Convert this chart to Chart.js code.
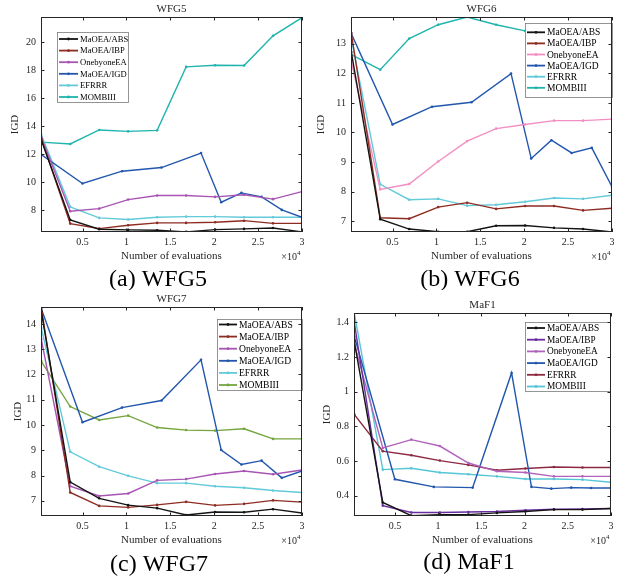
<!DOCTYPE html>
<html><head><meta charset="utf-8">
<script src="https://cdn.jsdelivr.net/npm/chart.js@4"></script>
<style>
html,body{margin:0;padding:0;background:#fff}
body{width:623px;height:577px;position:relative;overflow:hidden}
canvas{position:absolute}
</style></head><body>
<canvas id="ca" width="311" height="290" style="left:0;top:0"></canvas>
<canvas id="cb" width="312" height="290" style="left:311px;top:0"></canvas>
<canvas id="cc" width="311" height="287" style="left:0;top:290px"></canvas>
<canvas id="cd" width="312" height="287" style="left:311px;top:290px"></canvas>
<script>
// ---------- data ----------
const algorithms = ['MaOEA/ABS','MaOEA/IBP','OnebyoneEA','MaOEA/IGD','EFRRR','MOMBIII'];
const xEval    = [0.03,0.36,0.69,1.02,1.35,1.68,2.01,2.34,2.67,3.0];   // ×10^4 evaluations
const xEvalIGD = [0.03,0.5,0.95,1.4,1.85,2.08,2.31,2.54,2.77,3.0];
const xTicks = [0.5,1,1.5,2,2.5,3];

// WFG5
const wfg5ABS = [13.0,7.28,6.62,6.57,6.54,6.43,6.59,6.64,6.71,6.43];
const wfg5IBP = [13.1,7.02,6.66,6.9,7.07,7.07,7.12,7.23,7.04,7.04];
const wfg5One = [13.2,7.9,8.09,8.74,9.03,9.03,8.93,9.08,8.77,9.31];
const wfg5IGD = [11.95,9.89,10.77,11.03,12.07,8.55,9.22,8.93,8.0,7.47];
const wfg5EFR = [13.38,8.22,7.43,7.31,7.47,7.52,7.52,7.47,7.47,7.47];
const wfg5MOM = [12.85,12.72,13.72,13.62,13.69,18.23,18.35,18.33,20.45,21.75];
const wfg5YTicks = [8,10,12,14,16,18,20];

// WFG6
const wfg6ABS = [12.72,7.07,6.74,6.65,6.65,6.85,6.86,6.78,6.74,6.64];
const wfg6IBP = [13.36,7.12,7.09,7.48,7.63,7.42,7.52,7.52,7.37,7.44];
const wfg6One = [12.4,8.08,8.26,9.02,9.71,10.13,10.27,10.4,10.4,10.45];
const wfg6IGD = [13.34,10.27,10.87,11.02,11.99,9.12,9.74,9.31,9.48,8.17];
const wfg6EFR = [13.17,8.25,7.73,7.76,7.53,7.56,7.66,7.79,7.76,7.88];
const wfg6MOM = [12.63,12.12,13.17,13.64,13.9,13.64,13.43,13.3,13.2,13.13];
const wfg6YTicks = [7,8,9,10,11,12,13];

// WFG7
const wfg7ABS = [14.5,7.74,7.1,6.83,6.71,6.44,6.56,6.55,6.67,6.52];
const wfg7IBP = [14.65,7.33,6.8,6.74,6.84,6.96,6.82,6.88,7.02,6.95];
const wfg7One = [13.4,7.58,7.19,7.29,7.81,7.86,8.06,8.18,8.05,8.22];
const wfg7IGD = [14.6,10.11,10.69,10.97,12.58,9.01,8.44,8.59,7.91,8.18];
const wfg7EFR = [13.84,8.94,8.35,7.99,7.7,7.7,7.58,7.52,7.41,7.33];
const wfg7MOM = [12.52,10.73,10.2,10.37,9.9,9.8,9.78,9.85,9.45,9.45];
const wfg7YTicks = [7,8,9,10,11,12,13,14];

// MaF1
const maf1ABS = [1.29,0.36,0.284,0.29,0.29,0.30,0.308,0.319,0.319,0.325];
const maf1IBP = [1.4,0.342,0.302,0.302,0.305,0.308,0.315,0.321,0.322,0.325];
const maf1One = [1.277,0.675,0.723,0.686,0.588,0.54,0.533,0.511,0.511,0.511];
const maf1IGD = [1.32,0.494,0.45,0.446,1.108,0.45,0.44,0.446,0.444,0.444];
const maf1EFR = [0.869,0.656,0.633,0.602,0.577,0.546,0.556,0.565,0.562,0.562];
const maf1MOM = [1.454,0.55,0.558,0.533,0.523,0.511,0.496,0.496,0.492,0.477];
const maf1YTicks = [0.4,0.6,0.8,1,1.2,1.4];

// ---------- drawing ----------
const SERIF = '"Liberation Serif","DejaVu Serif",serif';
const AX = '#262626';

function pts(xs, ys){ return xs.map((x,i)=>({x:x, y:ys[i]})); }

function panelPlugin(p){
  return {
    id:'panel'+p.id,
    afterDatasetsDraw(chart){
      const ctx = chart.ctx, a = chart.chartArea, xs = chart.scales.x, ys = chart.scales.y;
      const ox = p.ox, oy = p.oy;
      ctx.save();
      // legend
      const L = p.legend;
      ctx.fillStyle = '#fff';
      ctx.fillRect(L.x-ox, L.y-oy, L.w, L.h);
      ctx.strokeStyle = '#7a7a7a'; ctx.lineWidth = 0.8;
      ctx.strokeRect(L.x-ox+0.5, L.y-oy+0.5, L.w-1, L.h-1);
      chart.data.datasets.forEach((ds,i)=>{
        const y = L.row0 + i*L.step - oy;
        ctx.strokeStyle = ds.borderColor; ctx.lineWidth = 1.8;
        ctx.beginPath(); ctx.moveTo(L.l0-ox, y); ctx.lineTo(L.l1-ox, y); ctx.stroke();
        ctx.fillStyle = ds.borderColor;
        ctx.beginPath(); ctx.arc((L.l0+L.l1)/2-ox, y, 1.4, 0, Math.PI*2); ctx.fill();
        ctx.fillStyle = '#000'; ctx.font = L.font+'px '+SERIF;
        ctx.textAlign = 'left'; ctx.textBaseline = 'middle';
        ctx.fillText(ds.label, L.tx-ox, y+0.5);
      });
      // axes box
      ctx.strokeStyle = AX; ctx.lineWidth = 1;
      ctx.strokeRect(Math.round(a.left)+0.5, Math.round(a.top)+0.5, Math.round(a.right-a.left)-1, Math.round(a.bottom-a.top)-1);
      // ticks
      ctx.beginPath();
      xTicks.forEach(v=>{
        const px = Math.round(xs.getPixelForValue(v))+0.5;
        ctx.moveTo(px, a.bottom); ctx.lineTo(px, a.bottom-3.5);
        ctx.moveTo(px, a.top); ctx.lineTo(px, a.top+3.5);
      });
      p.yTicks.forEach(v=>{
        const py = Math.round(ys.getPixelForValue(v))+0.5;
        ctx.moveTo(a.left, py); ctx.lineTo(a.left+3.5, py);
        ctx.moveTo(a.right, py); ctx.lineTo(a.right-3.5, py);
      });
      ctx.stroke();
      // tick labels
      ctx.fillStyle = AX; ctx.font = '10px '+SERIF;
      ctx.textAlign = 'center'; ctx.textBaseline = 'middle';
      xTicks.forEach(v=>{ ctx.fillText(String(v), xs.getPixelForValue(v), a.bottom+10); });
      ctx.textAlign = 'right';
      p.yTicks.forEach(v=>{ ctx.fillText(String(v), a.left-5, ys.getPixelForValue(v)); });
      // titles
      const cx = (a.left+a.right)/2;
      ctx.textAlign = 'center';
      ctx.font = '11px '+SERIF;
      ctx.fillText(p.title, cx, a.top-8);
      ctx.fillText('Number of evaluations', cx, a.bottom+24);
      // ×10^4
      ctx.textAlign = 'right'; ctx.font = '10px '+SERIF;
      ctx.fillText('\u00d710', a.right-5, a.bottom+25);
      ctx.textAlign = 'left'; ctx.font = '7px '+SERIF;
      ctx.fillText('4', a.right-5, a.bottom+21);
      // y title
      ctx.save();
      ctx.translate(p.yTitleX-ox, (a.top+a.bottom)/2);
      ctx.rotate(-Math.PI/2);
      ctx.font = '11px '+SERIF; ctx.textAlign='center'; ctx.textBaseline='middle';
      ctx.fillText('IGD', 0, 0);
      ctx.restore();
      // caption
      ctx.fillStyle = '#000'; ctx.font = '24px '+SERIF;
      ctx.textAlign = 'center'; ctx.textBaseline = 'alphabetic';
      ctx.fillText(p.caption, p.capX-ox, p.capY-oy);
      ctx.restore();
    }
  };
}

function makeChart(p){
  const canvas = document.getElementById(p.canvas);
  const datasets = p.series.map((s,i)=>({
    label: algorithms[i],
    data: pts(i===3 ? xEvalIGD : xEval, s),
    borderColor: p.colors[i],
    backgroundColor: p.colors[i],
    borderWidth: 1.4,
    pointRadius: 1.3,
    pointHoverRadius: 0,
    pointBorderWidth: 0,
    tension: 0,
    fill: false
  }));
  new Chart(canvas, {
    type: 'line',
    data: { datasets },
    options: {
      responsive: false, animation: false, devicePixelRatio: 1,
      events: [],
      layout: { padding: p.pad },
      plugins: { legend:{display:false}, title:{display:false}, tooltip:{enabled:false} },
      scales: {
        x: { type:'linear', min:0.027, max:3.0, display:false },
        y: { type:'linear', min:p.ymin, max:p.ymax, display:false }
      }
    },
    plugins: [panelPlugin(p)]
  });
}

const colA = ['#141414','#8e2c22','#a854b4','#2257ad','#62cad9','#1fb4ae'];
const colB = ['#141414','#8e2c22','#f28fc2','#2257ad','#62cad9','#1fb4ae'];
const colC = ['#141414','#8e2c22','#a854b4','#2257ad','#62cad9','#74a53e'];
const colD = ['#141414','#6a2ea0','#b062bc','#2257ad','#8c2a42','#55c6d6'];

makeChart({id:'a', canvas:'ca', ox:0, oy:0, pad:{left:41,top:17,right:9,bottom:58},
  series:[wfg5ABS,wfg5IBP,wfg5One,wfg5IGD,wfg5EFR,wfg5MOM], colors:colA,
  ymin:6.42, ymax:21.8, yTicks:wfg5YTicks, title:'WFG5', caption:'(a) WFG5', capX:158, capY:286, yTitleX:15,
  legend:{x:57,y:32,w:72,h:71,font:8.6,row0:39,step:11.6,l0:59,l1:78,tx:80}});
makeChart({id:'b', canvas:'cb', ox:311, oy:0, pad:{left:40,top:17,right:11,bottom:58},
  series:[wfg6ABS,wfg6IBP,wfg6One,wfg6IGD,wfg6EFR,wfg6MOM], colors:colB,
  ymin:6.64, ymax:13.9, yTicks:wfg6YTicks, title:'WFG6', caption:'(b) WFG6', capX:470, capY:286, yTitleX:321,
  legend:{x:525,y:23,w:88,h:75,font:9.5,row0:32.3,step:11.1,l0:527,l1:545,tx:547}});
makeChart({id:'c', canvas:'cc', ox:0, oy:290, pad:{left:41,top:17,right:9,bottom:61},
  series:[wfg7ABS,wfg7IBP,wfg7One,wfg7IGD,wfg7EFR,wfg7MOM], colors:colC,
  ymin:6.4, ymax:14.67, yTicks:wfg7YTicks, title:'WFG7', caption:'(c) WFG7', capX:159, capY:571, yTitleX:18,
  legend:{x:217,y:319,w:86,h:72,font:9.6,row0:324.5,step:12.1,l0:219,l1:237,tx:239}});
makeChart({id:'d', canvas:'cd', ox:311, oy:290, pad:{left:43,top:23,right:12,bottom:61},
  series:[maf1ABS,maf1IBP,maf1One,maf1IGD,maf1EFR,maf1MOM], colors:colD,
  ymin:0.282, ymax:1.454, yTicks:maf1YTicks, title:'MaF1', caption:'(d) MaF1', capX:469, capY:569, yTitleX:327,
  legend:{x:525,y:322,w:86,h:70,font:9.3,row0:328,step:11.7,l0:527,l1:545,tx:547}});
</script>
</body></html>
